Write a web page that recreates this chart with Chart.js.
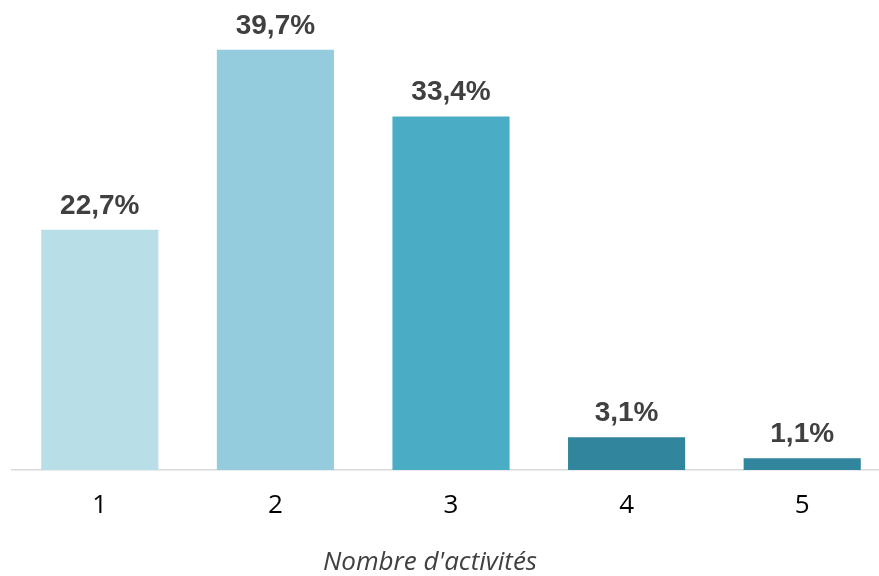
<!DOCTYPE html>
<html>
<head>
<meta charset="utf-8">
<script src="https://cdn.jsdelivr.net/npm/chart.js@4/dist/chart.umd.min.js"></script>
<style>
  html, body { margin: 0; padding: 0; background: #fff; overflow: hidden; }
  #wrap { width: 890px; height: 576px; }
</style>
</head>
<body>
<div id="wrap"><canvas id="myBarChart" width="890" height="576"></canvas></div>
<script>
const categories = ['1', '2', '3', '4', '5'];
const shares = [22.7, 39.7, 33.4, 3.1, 1.1];
const barColors = ['#B8DEE8', '#95CCDD', '#4BACC6', '#31859C', '#31859C'];
const axisTitle = "Nombre d'activités";

// étiquettes au-dessus des barres, format français + titre de l'axe
const valueLabels = {
    id: 'valueLabels',
    afterDatasetsDraw(chart) {
        const ctx = chart.ctx;
        const meta = chart.getDatasetMeta(0);
        ctx.save();
        ctx.font = 'bold 28px "Liberation Sans", Arial, sans-serif';
        ctx.fillStyle = '#404040';
        ctx.textAlign = 'center';
        ctx.textBaseline = 'alphabetic';
        meta.data.forEach((bar, i) => {
            const txt = shares[i].toFixed(1).replace('.', ',') + '%';
            ctx.fillText(txt, bar.x, bar.y - 16);
        });
        // titre de l'axe x, centré sur la figure
        ctx.font = 'italic 26px "Open Sans", sans-serif';
        ctx.fillText(axisTitle, 430, 570);
        ctx.restore();
    }
};

const ctx = document.getElementById('myBarChart').getContext('2d');
const myBarChart = new Chart(ctx, {
    type: 'bar',
    data: {
        labels: categories,
        datasets: [{
            data: shares,
            backgroundColor: barColors,
            borderWidth: 0,
            categoryPercentage: 1,
            barPercentage: 0.667
        }]
    },
    options: {
        responsive: false,
        animation: false,
        layout: { padding: { left: 12, right: 0, top: 0, bottom: 0 } },
        plugins: {
            legend: { display: false },
            tooltip: { enabled: false }
        },
        scales: {
            y: {
                display: false,
                min: 0,
                max: 44.4
            },
            x: {
                grid: { display: false, drawTicks: false },
                border: { display: true, color: '#D9D9D9', width: 1.5 },
                ticks: {
                    color: '#000',
                    padding: 20,
                    font: { family: '"Open Sans", sans-serif', size: 26 }
                },
                afterFit(scale) { scale.height = 106; }
            }
        }
    },
    plugins: [valueLabels]
});
</script>
</body>
</html>
